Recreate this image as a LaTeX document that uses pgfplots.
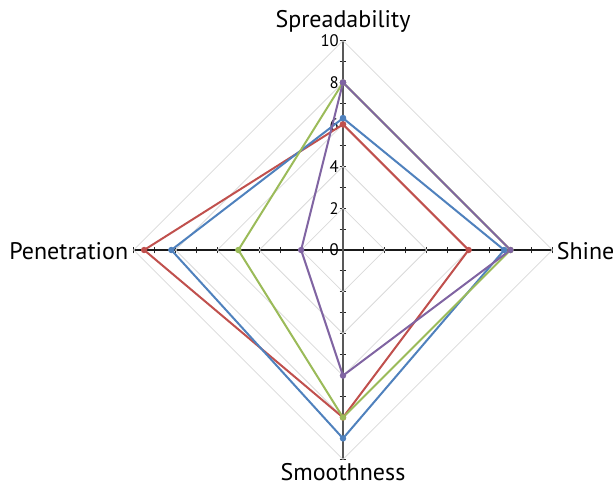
\documentclass[border=0pt]{standalone}
\usepackage{pgfplots}
\pgfplotsset{compat=1.18}
\usepackage{fontspec}
\setmainfont{PT Sans}
\definecolor{cred}{RGB}{192,80,77}
\definecolor{cblue}{RGB}{79,129,189}
\definecolor{cgreen}{RGB}{155,187,89}
\definecolor{cpurple}{RGB}{128,100,162}
\definecolor{cgrid}{RGB}{217,217,217}
\begin{document}
\begin{tikzpicture}
\useasboundingbox (0,0) rectangle (462pt,365.25pt);
\begin{axis}[
  at={(257.25pt,177.75pt)}, anchor=origin,
  x=15.7pt, y=15.7pt,
  xmin=-10, xmax=10, ymin=-10, ymax=10,
  axis lines=middle,
  x axis line style={black!90, line width=0.8pt, -},
  y axis line style={black!65, line width=1pt, -},
  xtick={-10,...,10}, xticklabels={},
  ytick={-10,...,10}, yticklabels={,,,,,,,,,,0,,2,,4,,6,,8,,10},
  hide obscured x ticks=false, hide obscured y ticks=false,
  tick align=center, major tick length=5pt,
  tick style={black!85, line width=0.8pt},
  yticklabel style={anchor=east, font=\fontsize{12.5}{14}\selectfont, inner sep=0.5pt, xshift=0pt},
  /pgf/number format/assume math mode=true,
  clip=false,
  mark size=1.6pt,
]
\addplot[cgrid, line width=0.6pt] coordinates {(0,2)(2,0)(0,-2)(-2,0)(0,2)};
\addplot[cgrid, line width=0.6pt] coordinates {(0,4)(4,0)(0,-4)(-4,0)(0,4)};
\addplot[cgrid, line width=0.6pt] coordinates {(0,6)(6,0)(0,-6)(-6,0)(0,6)};
\addplot[cgrid, line width=0.6pt] coordinates {(0,8)(8,0)(0,-8)(-8,0)(0,8)};
\addplot[cgrid, line width=0.6pt] coordinates {(0,10)(10,0)(0,-10)(-10,0)(0,10)};
% series: (0,Spreadability) (Shine,0) (0,-Smoothness) (-Penetration,0)
\addplot[cred, line width=1.5pt, mark=*] coordinates {(0,6)(6,0)(0,-8)(-9.5,0)(0,6)};
\addplot[cblue, line width=1.5pt, mark=*] coordinates {(0,6.3)(7.7,0)(0,-9)(-8.2,0)(0,6.3)};
\addplot[cgreen, line width=1.5pt, mark=*] coordinates {(0,8)(8,0)(0,-8)(-5,0)(0,8)};
\addplot[cpurple, line width=1.5pt, mark=*] coordinates {(0,8)(8,0)(0,-6)(-2,0)(0,8)};
\node[anchor=base, inner sep=0pt, font=\fontsize{18}{21}\selectfont] at (axis cs:0,10.65) {Spreadability};
\node[anchor=base, inner sep=0pt, font=\fontsize{18}{21}\selectfont] at (axis cs:0,-11.0) {Smoothness};
\node[anchor=base west, inner sep=0pt, font=\fontsize{18}{21}\selectfont] at (axis cs:10.2,-0.43) {Shine};
\node[anchor=base east, inner sep=0pt, font=\fontsize{18}{21}\selectfont] at (axis cs:-10.25,-0.43) {Penetration};
\end{axis}
\end{tikzpicture}
\end{document}
